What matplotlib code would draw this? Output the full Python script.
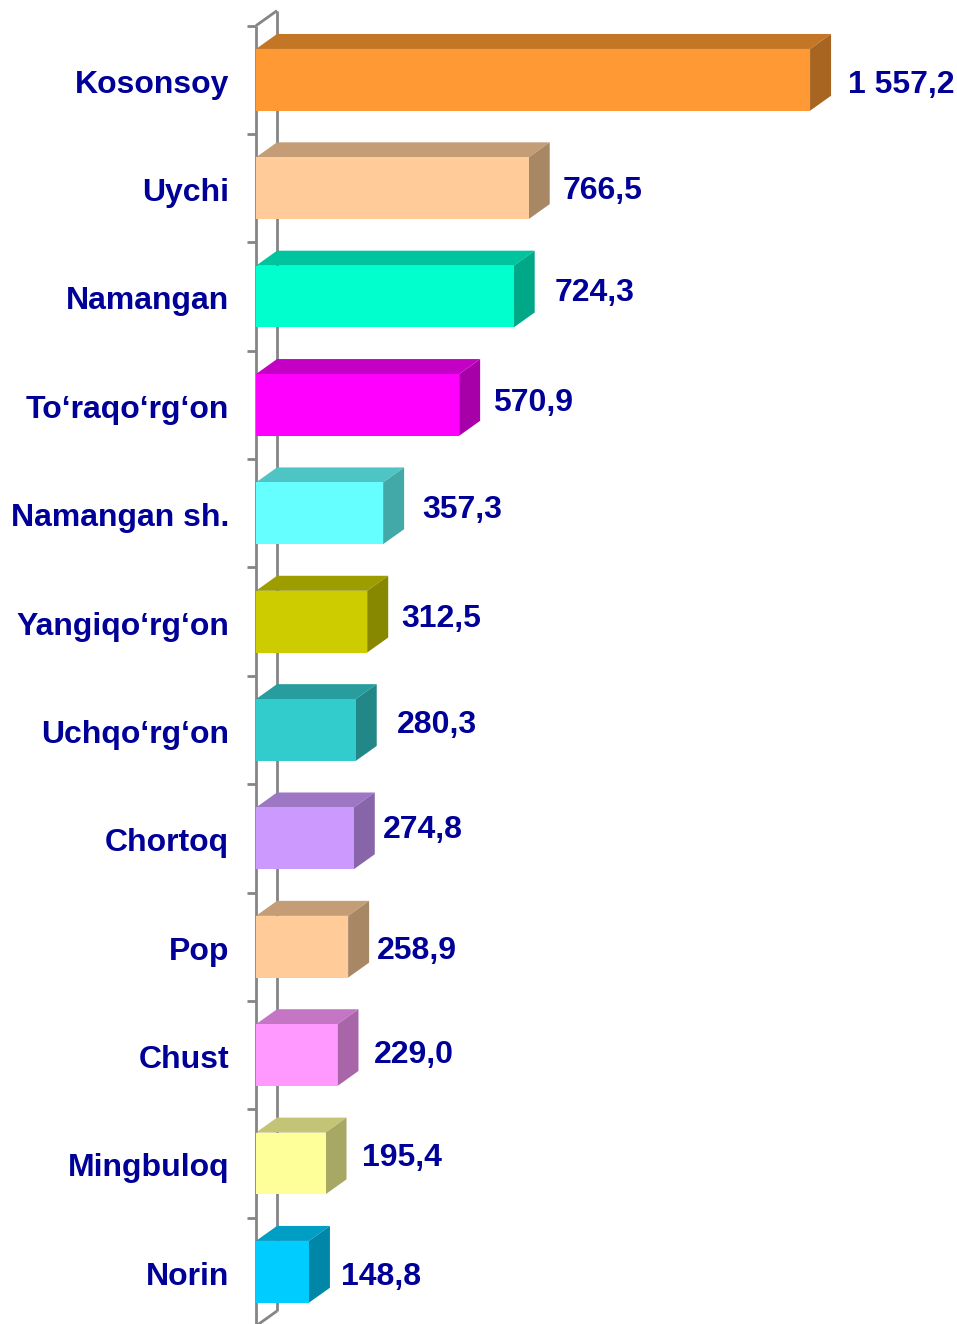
import matplotlib
matplotlib.use("Agg")
import matplotlib.pyplot as plt
from matplotlib.patches import Polygon
from matplotlib.colors import to_rgb

districts = ["Kosonsoy", "Uychi", "Namangan", "To\u2018raqo\u2018rg\u2018on", "Namangan sh.",
             "Yangiqo\u2018rg\u2018on", "Uchqo\u2018rg\u2018on", "Chortoq", "Pop", "Chust",
             "Mingbuloq", "Norin"]
values = [1557.2, 766.5, 724.3, 570.9, 357.3, 312.5, 280.3, 274.8, 258.9, 229.0, 195.4, 148.8]
value_labels = ["1 557,2", "766,5", "724,3", "570,9", "357,3", "312,5",
                "280,3", "274,8", "258,9", "229,0", "195,4", "148,8"]
face_colors = ["#FF9933", "#FFCC99", "#00FFCC", "#FF00FF", "#66FFFF", "#CCCC00",
               "#33CCCC", "#CC99FF", "#FFCC99", "#FF99FF", "#FFFF99", "#00CCFF"]

# label nudges in pixels (dx from bar side, dy up)
label_dx = [17, 13, 20, 13, 18, 13, 20, 8, 8, 15, 15, 11]
label_dy = [0, 2, 8, 7, 8, 8, 10, 13, 1, 5, 10, 0]

W, H, DPI = 957, 1324, 100
px_per_unit = 0.3558        # horizontal scale
row_px = 108.36             # height of one category row
x0_px = 256                 # front wall position
floor_px = 1326             # front floor, from top
depth_x = 21 / px_per_unit  # 3d depth in data units
depth_y = 15 / row_px

n = len(districts)
fig = plt.figure(figsize=(W / DPI, H / DPI), dpi=DPI)
ax = fig.add_axes([0, 0, 1, 1])
ax.set_xlim(-x0_px / px_per_unit, (W - x0_px) / px_per_unit)
ax.set_ylim((floor_px - H) / row_px, floor_px / row_px)
ax.axis("off")

def shade(c, f):
    r, g, b = to_rgb(c)
    return (r * f, g * f, b * f)

wall = dict(color="#858585", lw=2.0, solid_capstyle="butt", zorder=1)
# side wall of the category axis
ax.plot([0, 0], [-1, n], **wall)
ax.plot([depth_x, depth_x], [depth_y, n + depth_y], **wall)
ax.plot([0, depth_x], [n, n + depth_y], **wall)
ax.plot([0, depth_x], [0, depth_y], **wall)
tick_len = 9 / px_per_unit
for k in range(1, n + 1):
    ax.plot([-tick_len, 0], [k, k], **wall)

for i, (name, v, lab, c) in enumerate(zip(districts, values, value_labels, face_colors)):
    base = n - 1 - i
    y_lo = base + 0.215
    y_hi = base + 0.785
    front = Polygon([(0, y_lo), (v, y_lo), (v, y_hi), (0, y_hi)], closed=True,
                    fc=c, ec="none", zorder=3)
    top = Polygon([(0, y_hi), (v, y_hi), (v + depth_x, y_hi + depth_y),
                   (depth_x, y_hi + depth_y)], closed=True,
                  fc=shade(c, 0.77), ec="none", zorder=2)
    side = Polygon([(v, y_lo), (v + depth_x, y_lo + depth_y),
                    (v + depth_x, y_hi + depth_y), (v, y_hi)], closed=True,
                   fc=shade(c, 0.66), ec="none", zorder=2)
    for p in (top, side, front):
        ax.add_patch(p)

    yc = base + 0.455
    ax.text(-27 / px_per_unit, yc, name, ha="right", va="center",
            fontsize=23, fontweight="bold", color="#000099",
            family=["Liberation Sans", "DejaVu Sans"])
    ax.annotate(lab, xy=(v + depth_x, yc), xytext=(label_dx[i], label_dy[i]),
                textcoords="offset pixels", ha="left", va="center",
                fontsize=23, fontweight="bold", color="#000099",
                family=["Liberation Sans", "DejaVu Sans"])

fig.savefig("out.png", dpi=DPI)
